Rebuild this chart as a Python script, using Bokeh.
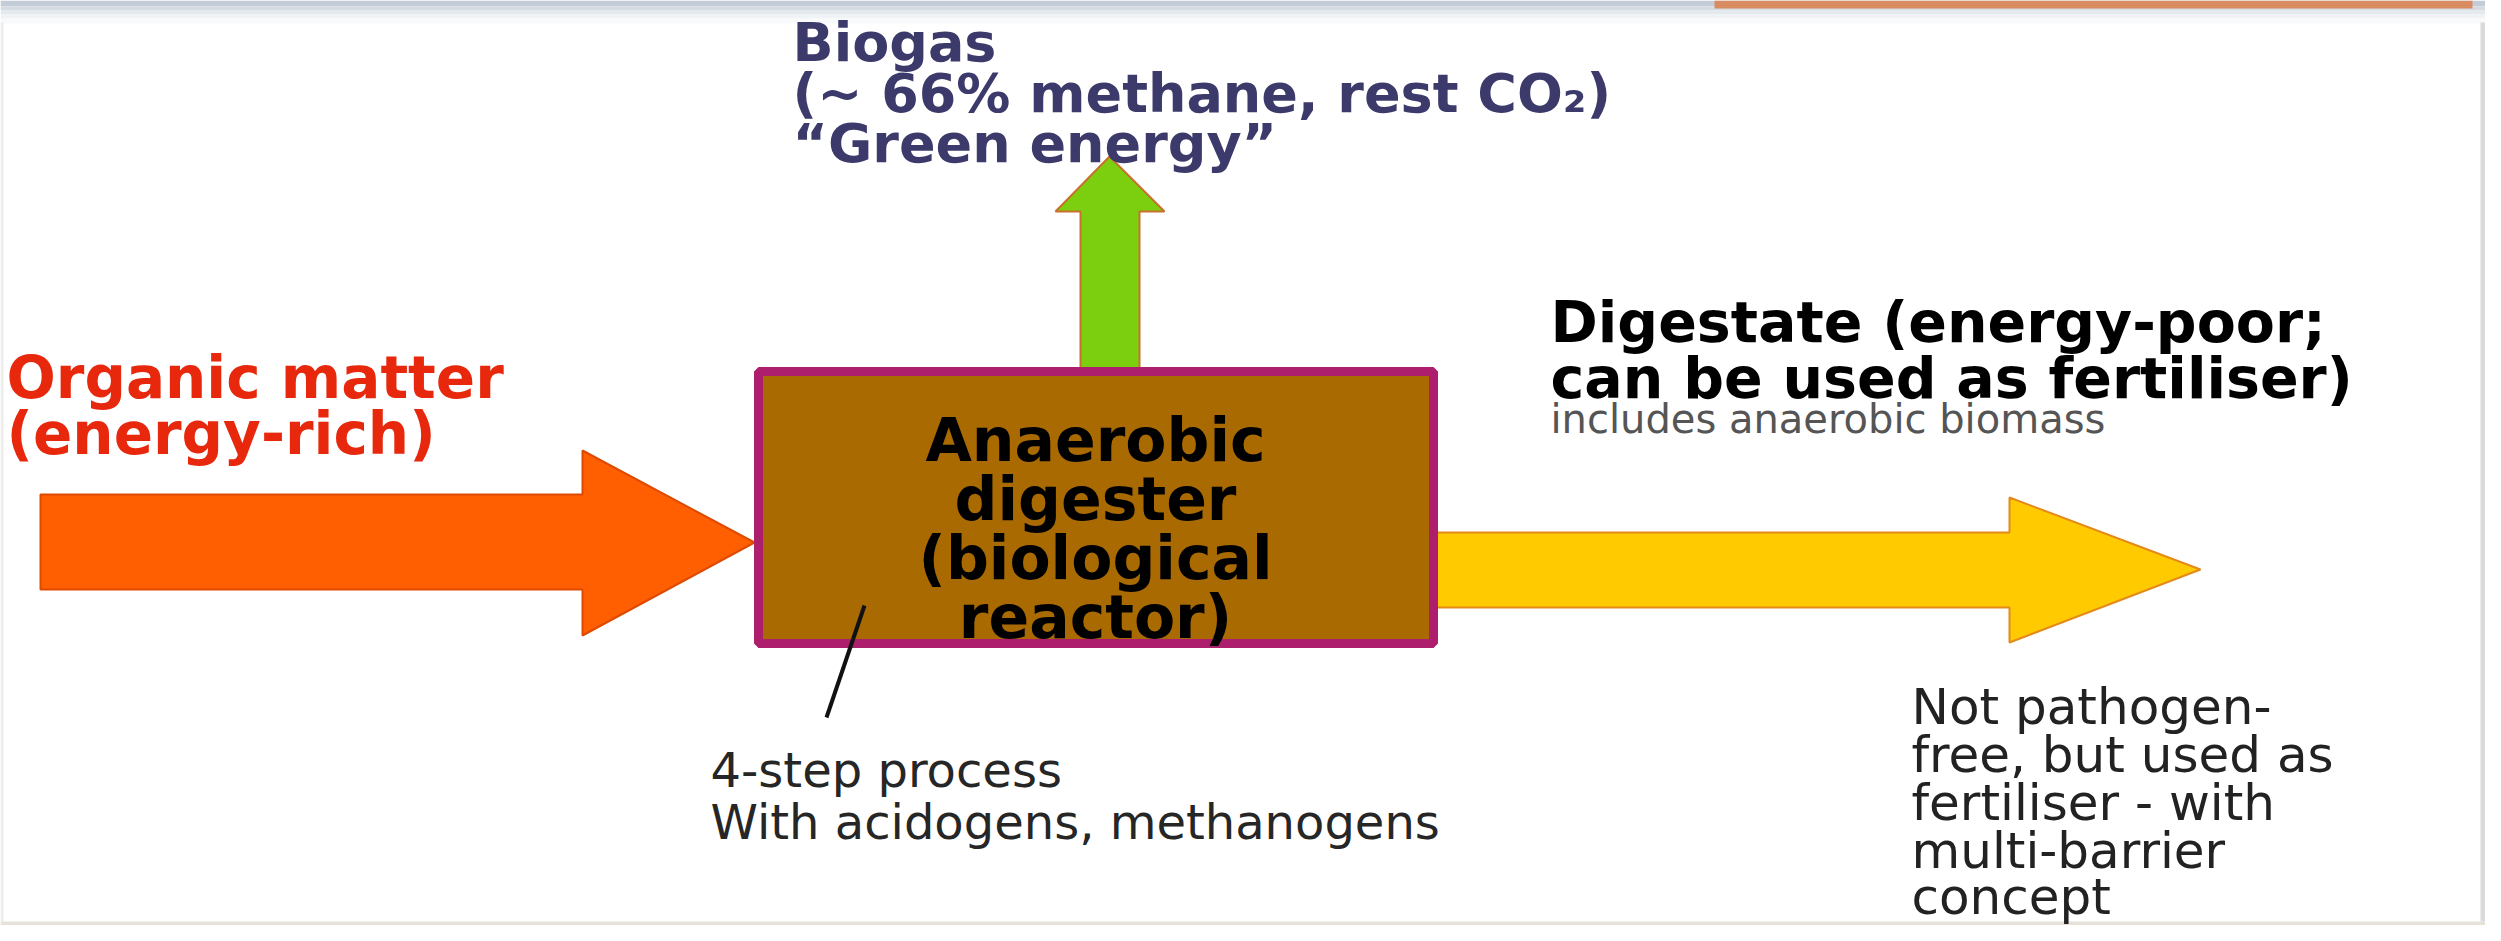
from bokeh.plotting import figure
from bokeh.models import Range1d, ColumnDataSource
from bokeh.core.properties import value
from bokeh.embed import file_html
from bokeh.resources import INLINE

# ---- texts of the diagram ----
BIOGAS_LINES = ["Biogas", "(~ 66% methane, rest CO\u2082)", "\u201cGreen energy\u201d"]
INPUT_LINES = ["Organic matter", "(energy-rich)"]
REACTOR_LINES = ["Anaerobic", "digester", "(biological", "reactor)"]
OUTPUT_LINES = ["Digestate (energy-poor;", "can be used as fertiliser)"]
OUTPUT_NOTE = ["includes anaerobic biomass"]
PROCESS_LINES = ["4-step process", "With acidogens, methanogens"]
SAFETY_LINES = ["Not pathogen-", "free, but used as", "fertiliser - with", "multi-barrier", "concept"]

# ---- diagram shapes (image pixel coordinates, y downwards) ----
INPUT_ARROW_X = [48, 590, 590, 762, 590, 590, 48]
INPUT_ARROW_Y = [502, 502, 458, 550, 643, 597, 597]
GAS_ARROW_X = [1088, 1088, 1063, 1117, 1172, 1147, 1147]
GAS_ARROW_Y = [378, 219, 219, 164, 219, 219, 378]
OUT_ARROW_X = [1440, 2017, 2017, 2208, 2017, 2017, 1440]
OUT_ARROW_Y = [540, 540, 505, 577, 650, 615, 615]
REACTOR_BOX = dict(left=766, right=1441, top=379, bottom=651)
LEADER_X = [872, 834]
LEADER_Y = [613, 725]

W, H = 2485, 925
p = figure(width=W, height=H, x_range=Range1d(8, 8 + W), y_range=Range1d(8 + H, 8),
           output_backend="svg", toolbar_location=None, min_border=0,
           x_axis_type=None, y_axis_type=None,
           background_fill_color="white", border_fill_color="white",
           outline_line_color=None)
p.grid.visible = False

# background bands (slide header / footer / edges)
band_top = [8, 14, 18, 22, 26]
band_bot = [14, 18, 22, 26, 31]
band_col = ["#c4cdd7", "#d4dbe3", "#e4e9ee", "#f0f3f6", "#f8f9fb"]
p.quad(left=8, right=8 + W, top=band_top, bottom=band_bot, fill_color=band_col, line_color=None)
p.quad(left=1722, right=2480, top=8, bottom=16, fill_color="#d98b62", line_color=None)
p.quad(left=8, right=8 + W, top=929, bottom=933, fill_color="#e6e2da", line_color=None)
p.quad(left=2488, right=8 + W, top=30, bottom=929, fill_color="#dadada", line_color=None)
p.quad(left=8, right=11, top=30, bottom=929, fill_color="#ececec", line_color=None)

# arrows
p.patch(INPUT_ARROW_X, INPUT_ARROW_Y, fill_color="#ff5f00", line_color="#dd4a00", line_width=2)
p.patch(GAS_ARROW_X, GAS_ARROW_Y, fill_color="#7ccf0e", line_color="#c8702c", line_width=2)
p.patch(OUT_ARROW_X, OUT_ARROW_Y, fill_color="#ffcb00", line_color="#e48a18", line_width=2)

# reactor box
p.quad(left=REACTOR_BOX["left"], right=REACTOR_BOX["right"],
       top=REACTOR_BOX["top"], bottom=REACTOR_BOX["bottom"],
       fill_color="#a96a02", line_color="#ad1f6c", line_width=9)

# leader line
p.line(LEADER_X, LEADER_Y, line_color="#111111", line_width=4)


def text_block(lines, x, ys, size, color, bold=True, align="left", font="DejaVu Sans"):
    src = ColumnDataSource(dict(x=[x] * len(lines), y=ys, t=lines))
    p.text(x="x", y="y", text="t", source=src, text_font=value(font),
           text_font_size=value(f"{size}px"), text_font_style="bold" if bold else "normal",
           text_color=color, text_align=align, text_baseline="alphabetic")


text_block(BIOGAS_LINES, 800, [50, 101, 151], 54, "#3b3a6b")
text_block(INPUT_LINES, 14, [385, 441], 58, "#e8280c")
text_block(REACTOR_LINES, 1103, [447, 506, 565, 624], 60, "#000000", align="center")
text_block(OUTPUT_LINES, 1558, [329, 385], 57, "#000000")
text_block(OUTPUT_NOTE, 1558, [426], 40, "#555555", bold=False)
text_block(PROCESS_LINES, 718, [777, 829], 48, "#262626", bold=False)
text_block(SAFETY_LINES, 1919, [714, 762, 810, 858, 904], 50, "#222222", bold=False)

open("out.html", "w").write(file_html(p, INLINE))
